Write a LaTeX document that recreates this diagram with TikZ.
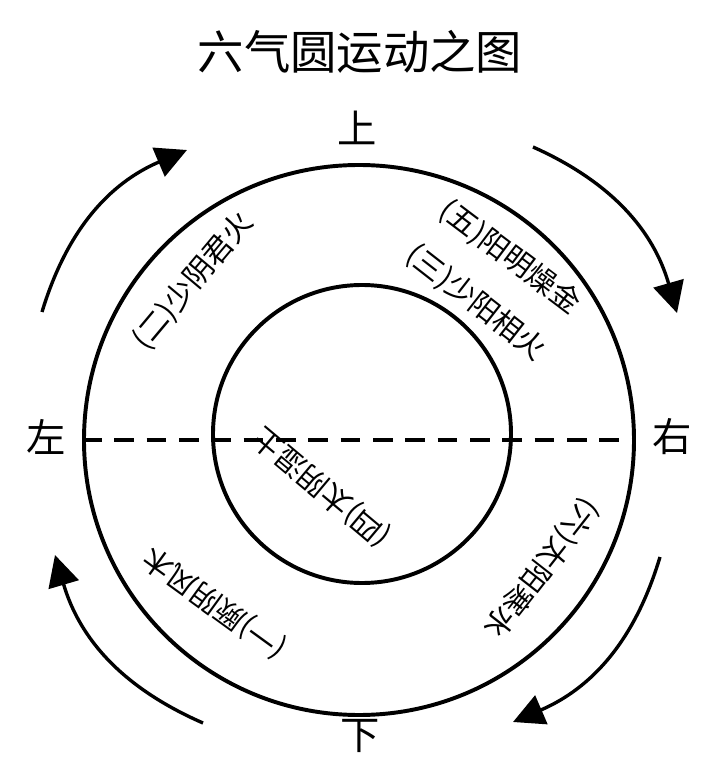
\documentclass[tikz,border=0pt]{standalone}
\usepackage{fontspec}
\setmainfont{Noto Sans CJK SC}
\usetikzlibrary{arrows.meta}
\tikzstyle{circulo}=[circle, draw, line width=2.8pt, inner sep=0pt]
\tikzstyle{flecha}=[line width=2.4pt, -{Triangle[length=22pt, width=22pt]}]
\tikzstyle{qi}=[font=\fontsize{21}{21}\selectfont, inner sep=1pt]
\tikzstyle{lado}=[font=\fontsize{28}{28}\selectfont, inner sep=1pt]

\begin{document}
\begin{tikzpicture}
        \useasboundingbox (-8.975,-8.6) rectangle (8.95,11);
        % título
        \node[font=\fontsize{33}{33}\selectfont] (titulo) at (0.025,9.7) {六气圆运动之图};

        % círculos
        \node[circulo, minimum size=13.75cm] (ext) at (0,0) {};
        \node[circulo, minimum size=7.45cm] (int) at (0.075,0.15) {};
        \draw[line width=2.8pt, dash pattern=on 14pt off 9pt] (ext.west) -- (ext.east);

        % direcciones
        \node[lado] (arriba) at (-0.05,7.8) {上};
        \node[lado] (abajo) at (0.025,-7.4) {下};
        \node[lado] (izq) at (-7.825,0.075) {左};
        \node[lado] (der) at (7.825,0.075) {右};

        % seis qi
        \node[qi, rotate=50] (q2) at (-4.15,3.975) {(二)少阴君火};
        \node[qi, rotate=-37] (q5) at (3.775,4.575) {(五)阳明燥金};
        \node[qi, rotate=-38] (q3) at (2.925,3.425) {(三)少阳相火};
        \node[qi, rotate=140] (q4) at (-0.925,-1.175) {(四)太阴湿土};
        \node[qi, rotate=144] (q1) at (-3.6,-4.075) {(一)厥阴风木};
        \node[qi, rotate=-128] (q6) at (4.55,-3.2) {(六)太阳寒水};

        % flechas
        \coordinate (a1) at (-7.925,3.2);
        \coordinate (b1) at (-4.3,7.25);
        \coordinate (a2) at (4.35,7.325);
        \coordinate (b2) at (7.95,3.175);
        \coordinate (a3) at (7.525,-2.925);
        \coordinate (b3) at (3.85,-7.05);
        \coordinate (a4) at (-3.9,-7.075);
        \coordinate (b4) at (-7.6,-2.875);
        \draw[flecha] (a1) to[bend left=25] (b1);
        \draw[flecha] (a2) to[bend left=25] (b2);
        \draw[flecha] (a3) to[bend left=25] (b3);
        \draw[flecha] (a4) to[bend left=25] (b4);
    \end{tikzpicture}
\end{document}
